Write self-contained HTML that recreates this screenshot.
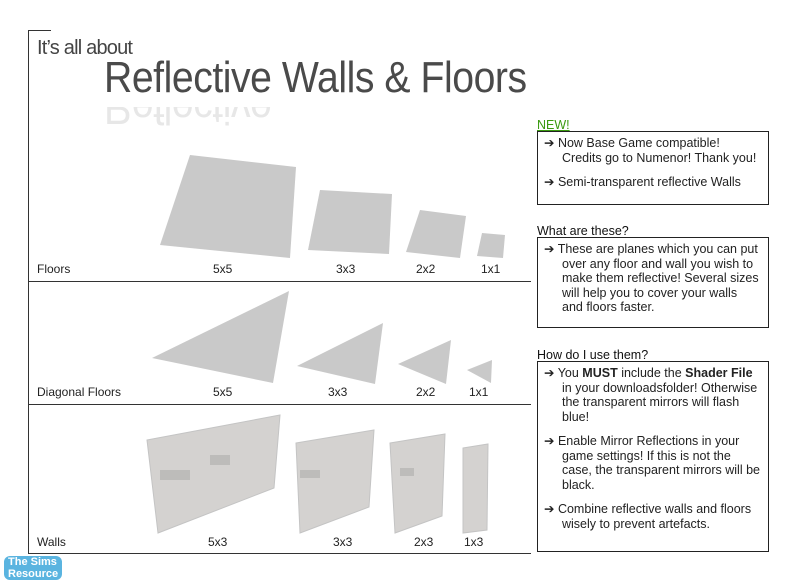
<!DOCTYPE html>
<html><head><style>
body{margin:0;width:800px;height:585px;background:#fff;position:relative;overflow:hidden;font-family:"Liberation Sans",sans-serif;color:#222}
.a{position:absolute}
.l{font-size:12px;color:#222}
.box{position:absolute;border:1px solid #222;left:537px;width:232px;font-size:12.5px;line-height:14.5px;color:#222;box-sizing:border-box;padding:4px 4px 0 6px;white-space:nowrap}
.box p{margin:0 0 10px 0;padding-left:18px;text-indent:-18px}
.h{position:absolute;left:537px;font-size:12.5px;color:#111}
</style></head><body>
<div class="a" style="left:28px;top:30px;width:1px;height:524px;background:#333"></div>
<div class="a" style="left:28px;top:30px;width:23px;height:1px;background:#333"></div>
<div class="a" style="left:28px;top:281px;width:503px;height:1px;background:#333"></div>
<div class="a" style="left:28px;top:404px;width:503px;height:1px;background:#333"></div>
<div class="a" style="left:28px;top:553px;width:503px;height:1px;background:#333"></div>
<div class="a" style="left:37px;top:37px;font-size:20px;color:#444;letter-spacing:-0.8px">It’s all about</div>
<div class="a" style="left:104px;top:53px;font-size:44px;color:#4a4a4a;letter-spacing:-0.5px;white-space:nowrap;transform:scaleX(0.89);transform-origin:0 0">Reflective Walls &amp; Floors</div>
<div class="a" style="left:104px;top:133px;font-size:44px;color:#444;letter-spacing:-0.5px;white-space:nowrap;transform:scale(0.89,-1);transform-origin:0 0;opacity:.12;height:26px;overflow:hidden">Reflective</div>
<svg class="a" style="left:0;top:0" width="800" height="585">
<g fill="#c9c9c9">
<polygon points="190,155 296,167 290,258 160,245"/>
<polygon points="320,190 392,194 389,254 308,250"/>
<polygon points="420,210 466,216 460,258 406,252"/>
<polygon points="482,233 505,235 503,258 477,256"/>
<polygon points="152,358 289,291 273,383"/>
<polygon points="297,366 383,323 375,384"/>
<polygon points="398,364 451,340 446,384"/>
<polygon points="467,370 492,360 491,383"/>
</g>
<g fill="#d4d2d0" stroke="#c4c4c4">
<polygon points="147,440 280,415 274,488 158,533"/>
<polygon points="296,443 374,430 369,507 300,533"/>
<polygon points="390,443 445,434 442,516 395,533"/>
<polygon points="463,448 488,444 487,530 463,533"/>
</g>
<g fill="#bdbcba"><rect x="160" y="470" width="30" height="10"/><rect x="210" y="455" width="20" height="10"/><rect x="300" y="470" width="20" height="8"/><rect x="400" y="468" width="14" height="8"/></g>
</svg>
<div class="a l" style="left:37px;top:262px">Floors</div>
<div class="a l" style="left:213px;top:262px">5x5</div>
<div class="a l" style="left:336px;top:262px">3x3</div>
<div class="a l" style="left:416px;top:262px">2x2</div>
<div class="a l" style="left:481px;top:262px">1x1</div>
<div class="a l" style="left:37px;top:385px">Diagonal Floors</div>
<div class="a l" style="left:213px;top:385px">5x5</div>
<div class="a l" style="left:328px;top:385px">3x3</div>
<div class="a l" style="left:416px;top:385px">2x2</div>
<div class="a l" style="left:469px;top:385px">1x1</div>
<div class="a l" style="left:37px;top:535px">Walls</div>
<div class="a l" style="left:208px;top:535px">5x3</div>
<div class="a l" style="left:333px;top:535px">3x3</div>
<div class="a l" style="left:414px;top:535px">2x3</div>
<div class="a l" style="left:464px;top:535px">1x3</div>
<div class="h" style="top:118px;color:#3a9a10;text-decoration:underline">NEW!</div>
<div class="box" style="top:131px;height:74px"><p>➔ Now Base Game compatible!<br>Credits go to Numenor! Thank you!</p><p>➔ Semi-transparent reflective Walls</p></div>
<div class="h" style="top:224px">What are these?</div>
<div class="box" style="top:237px;height:91px"><p>➔ These are planes which you can put<br>over any floor and wall you wish to<br>make them reflective! Several sizes<br>will help you to cover your walls<br>and floors faster.</p></div>
<div class="h" style="top:348px">How do I use them?</div>
<div class="box" style="top:361px;height:191px"><p>➔ You <b>MUST</b> include the <b>Shader File</b><br>in your downloadsfolder! Otherwise<br>the transparent mirrors will flash<br>blue!</p><p>➔ Enable Mirror Reflections in your<br>game settings! If this is not the<br>case, the transparent mirrors will be<br>black.</p><p>➔ Combine reflective walls and floors<br>wisely to prevent artefacts.</p></div>
<div class="a" style="left:4px;top:556px;font-size:11px;font-weight:bold;color:#fff;background:#5ab4e0;border-radius:6px;padding:0 4px;line-height:12px">The Sims<br>Resource</div>
</body></html>
